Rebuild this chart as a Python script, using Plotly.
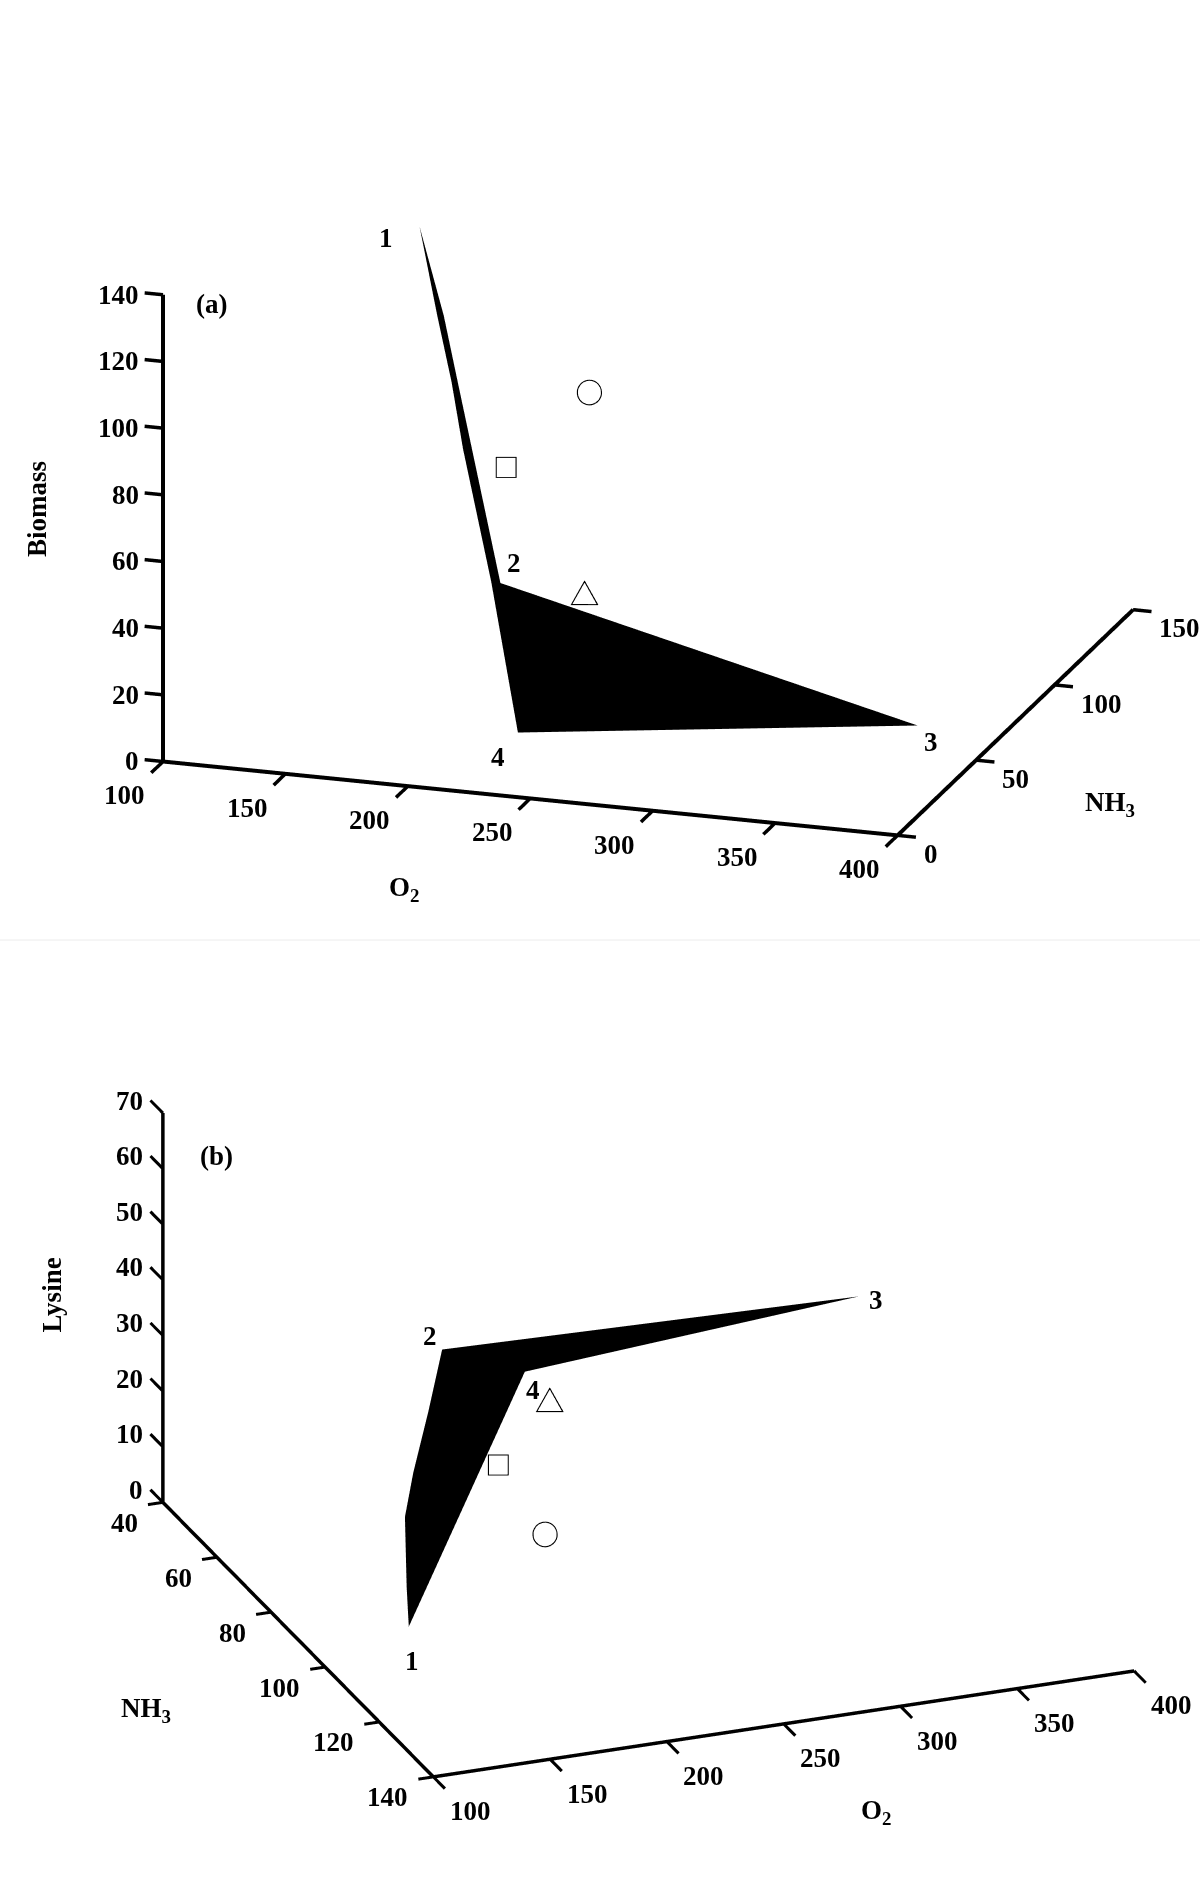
import math
import plotly.graph_objects as go

W, H = 1200, 1881
FONT = "Liberation Serif"

# panel (a): outline of the feasible region (corner 1, up to 2, 3, 4, back up to 1)
a_o2 = [147.4, 160.8, 169.7, 200.6, 365, 220, 198.8, 180.2, 170.4, 159.4]
a_nh3 = [89.5, 84, 79, 58, 67.3, 38.9, 55, 66, 74, 82]
a_biomass = [123.5, 100.3, 83.3, 34.8, 0, 0, 36.3, 69.9, 85.6, 101.2]
a_points_o2 = [242, 208, 240]
a_points_nh3 = [50, 50, 50]
a_points_biomass = [98.6, 73.7, 38.4]

# panel (b): corner 1, up the left edge to 2, 3, 4
b_o2 = [146, 145.9, 146.9, 157.4, 178.9, 198.7, 366.3, 231.8]
b_nh3 = [91.2, 90.5, 89, 83, 70, 58, 67.3, 60]
b_lysine = [0, 6.8, 18.6, 22.9, 26.1, 30.1, 33.6, 25]
b_points_o2 = [223, 203, 225]
b_points_nh3 = [75, 75, 75]
b_points_lysine = [3.7, 17.5, 27.8]

o2_ticks = [100, 150, 200, 250, 300, 350, 400]
a_nh3_ticks = [0, 50, 100, 150]
biomass_ticks = [0, 20, 40, 60, 80, 100, 120, 140]
b_nh3_ticks = [40, 60, 80, 100, 120, 140]
lysine_ticks = [0, 10, 20, 30, 40, 50, 60, 70]

POINT_GLYPHS = [("○", 28), ("□", 26), ("△", 30)]


def hidden_axis(rng):
    return dict(range=rng, visible=False, showspikes=False)


def eye(azimuth, elevation, dist):
    t, e = math.radians(azimuth), math.radians(elevation)
    return dict(x=dist * math.cos(e) * math.sin(t),
                y=-dist * math.cos(e) * math.cos(t),
                z=dist * math.sin(e))


def segments(items):
    xs, ys, zs = [], [], []
    for p, q in items:
        xs += [p[0], q[0], None]
        ys += [p[1], q[1], None]
        zs += [p[2], q[2], None]
    return xs, ys, zs


def add_frame(fig, scene, axis_lines, tick_lines, axis_width, tick_width):
    # scene axes can't do flat labels or thick lines, so the frame is drawn as lines in the scene
    for items, width in ((axis_lines, axis_width), (tick_lines, tick_width)):
        xs, ys, zs = segments(items)
        fig.add_trace(go.Scatter3d(x=xs, y=ys, z=zs, mode="lines", scene=scene, hoverinfo="skip",
                                   line=dict(color="black", width=width)))


def add_panel(fig, scene, xs, ys, zs, tris, px, py, pz):
    fig.add_trace(go.Mesh3d(
        x=xs, y=ys, z=zs, i=tris[0], j=tris[1], k=tris[2], color="black", opacity=1,
        flatshading=True, lighting=dict(ambient=1, diffuse=0, specular=0, fresnel=0),
        hoverinfo="skip", scene=scene,
    ))
    for n, (glyph, size) in enumerate(POINT_GLYPHS):
        fig.add_trace(go.Scatter3d(
            x=[px[n]], y=[py[n]], z=[pz[n]], mode="text", text=[glyph], textposition="middle center",
            scene=scene, hoverinfo="skip",
            textfont=dict(family="Noto Sans CJK SC", size=size, color="black"),
        ))


def tick_note(x, y, z, text, xanchor, xshift, yshift):
    return dict(x=x, y=y, z=z, text="<b>%s</b>" % text, showarrow=False, xanchor=xanchor, yanchor="middle",
                xshift=xshift, yshift=yshift, font=dict(family=FONT, size=27, color="black"))


fig = go.Figure()

# panel (a) frame
add_frame(fig, "scene",
          [((100, 0, 0), (400, 0, 0)), ((400, 0, 0), (400, 150, 0)), ((100, 0, 0), (100, 0, 140))],
          [((t, 0, 0), (t, -7.5, 0)) for t in o2_ticks]
          + [((400, t, 0), (407.5, t, 0)) for t in a_nh3_ticks]
          + [((100, 0, t), (92.5, 0, t)) for t in biomass_ticks], 8, 7)
add_panel(fig, "scene", a_o2, a_nh3, a_biomass,
          ([0, 1, 9, 2, 8, 7, 6, 3], [1, 2, 2, 3, 3, 3, 3, 4], [9, 9, 8, 8, 7, 6, 5, 5]),
          a_points_o2, a_points_nh3, a_points_biomass)
a_notes = ([tick_note(t, 0, 0, t, "center", -38, -34) for t in o2_ticks]
           + [tick_note(400, t, 0, t, "left", 24, -19) for t in a_nh3_ticks]
           + [tick_note(100, 0, t, t, "right", -22, 0) for t in biomass_ticks])

# panel (b) frame
add_frame(fig, "scene2",
          [((100, 140, 0), (400, 140, 0)), ((100, 40, 0), (100, 140, 0)), ((100, 40, 0), (100, 40, 70))],
          [((t, 140, 0), (t, 144.3, 0)) for t in o2_ticks]
          + [((100, t, 0), (93.6, t, 0)) for t in b_nh3_ticks]
          + [((100, 40, t), (100, 35.4, t)) for t in lysine_ticks], 7, 6)
add_panel(fig, "scene2", b_o2, b_nh3, b_lysine,
          ([0, 1, 2, 3, 4, 5], [1, 2, 3, 4, 5, 6], [7, 7, 7, 7, 7, 7]),
          b_points_o2, b_points_nh3, b_points_lysine)
b_notes = ([tick_note(t, 140, 0, t, "center", 37, -35) for t in o2_ticks]
           + [tick_note(100, t, 0, t, "right", -23, -21) for t in b_nh3_ticks]
           + [tick_note(100, 40, t, t, "right", -18, 12) for t in lysine_ticks])

labels = [
    ("1", 322, 198), ("2", 428, 469), ("3", 776, 618), ("4", 415, 631), ("(a)", 176, 253),
    ("O<sub>2</sub>", 337, 741), ("NH<sub>3</sub>", 925, 670),
    ("1", 343, 1384), ("2", 358, 1113), ("3", 730, 1083), ("4", 444, 1158), ("(b)", 180, 963),
    ("O<sub>2</sub>", 730, 1510), ("NH<sub>3</sub>", 122, 1425),
]
annotations = [dict(text="<b>%s</b>" % t, x=lx * 1.2 / W, y=1 - ly * 1.2 / H, xref="paper", yref="paper",
                    xanchor="center", yanchor="middle",
                    showarrow=False, font=dict(family=FONT, size=27, color="black"))
               for t, lx, ly in labels]
for t, lx, ly in [("Biomass", 31, 424), ("Lysine", 43, 1079)]:
    annotations.append(dict(text="<b>%s</b>" % t, x=lx * 1.2 / W, y=1 - ly * 1.2 / H, xref="paper", yref="paper",
                            xanchor="center", yanchor="middle",
                            showarrow=False, textangle=-90, font=dict(family=FONT, size=27, color="black")))

fig.update_layout(
    width=W, height=H, margin=dict(l=0, r=0, t=0, b=0), showlegend=False,
    paper_bgcolor="white", annotations=annotations,
    shapes=[dict(type="line", xref="paper", yref="paper", x0=0, x1=1, y0=1 - 940 / H, y1=1 - 940 / H,
                 line=dict(color="#ececec", width=1))],
    scene=dict(
        domain=dict(x=[81.8 / W, 1], y=[1 - 858.8 / H, 1 - 58.8 / H]),
        xaxis=hidden_axis([90, 410]), yaxis=hidden_axis([-10, 151]), zaxis=hidden_axis([-1, 141]),
        aspectmode="manual", aspectratio=dict(x=2.059, y=2.051, z=1.245),
        camera=dict(projection=dict(type="orthographic"), eye=eye(17.95, 18.08, 4), up=dict(x=0, y=0, z=1)),
        annotations=a_notes,
    ),
    scene2=dict(
        domain=dict(x=[97 / W, 1], y=[1 - 1871.5 / H, 1 - 911.5 / H]),
        xaxis=hidden_axis([93, 407]), yaxis=hidden_axis([145, 35]), zaxis=hidden_axis([-1, 71]),
        aspectmode="manual", aspectratio=dict(x=1.638, y=1.7215, z=0.9067),
        camera=dict(projection=dict(type="orthographic"), eye=eye(-21.1, 23.06, 4), up=dict(x=0, y=0, z=1)),
        annotations=b_notes,
    ),
)

fig.write_html("out.html", config=dict(displayModeBar=False),
               post_script="document.body.style.margin='0';")
